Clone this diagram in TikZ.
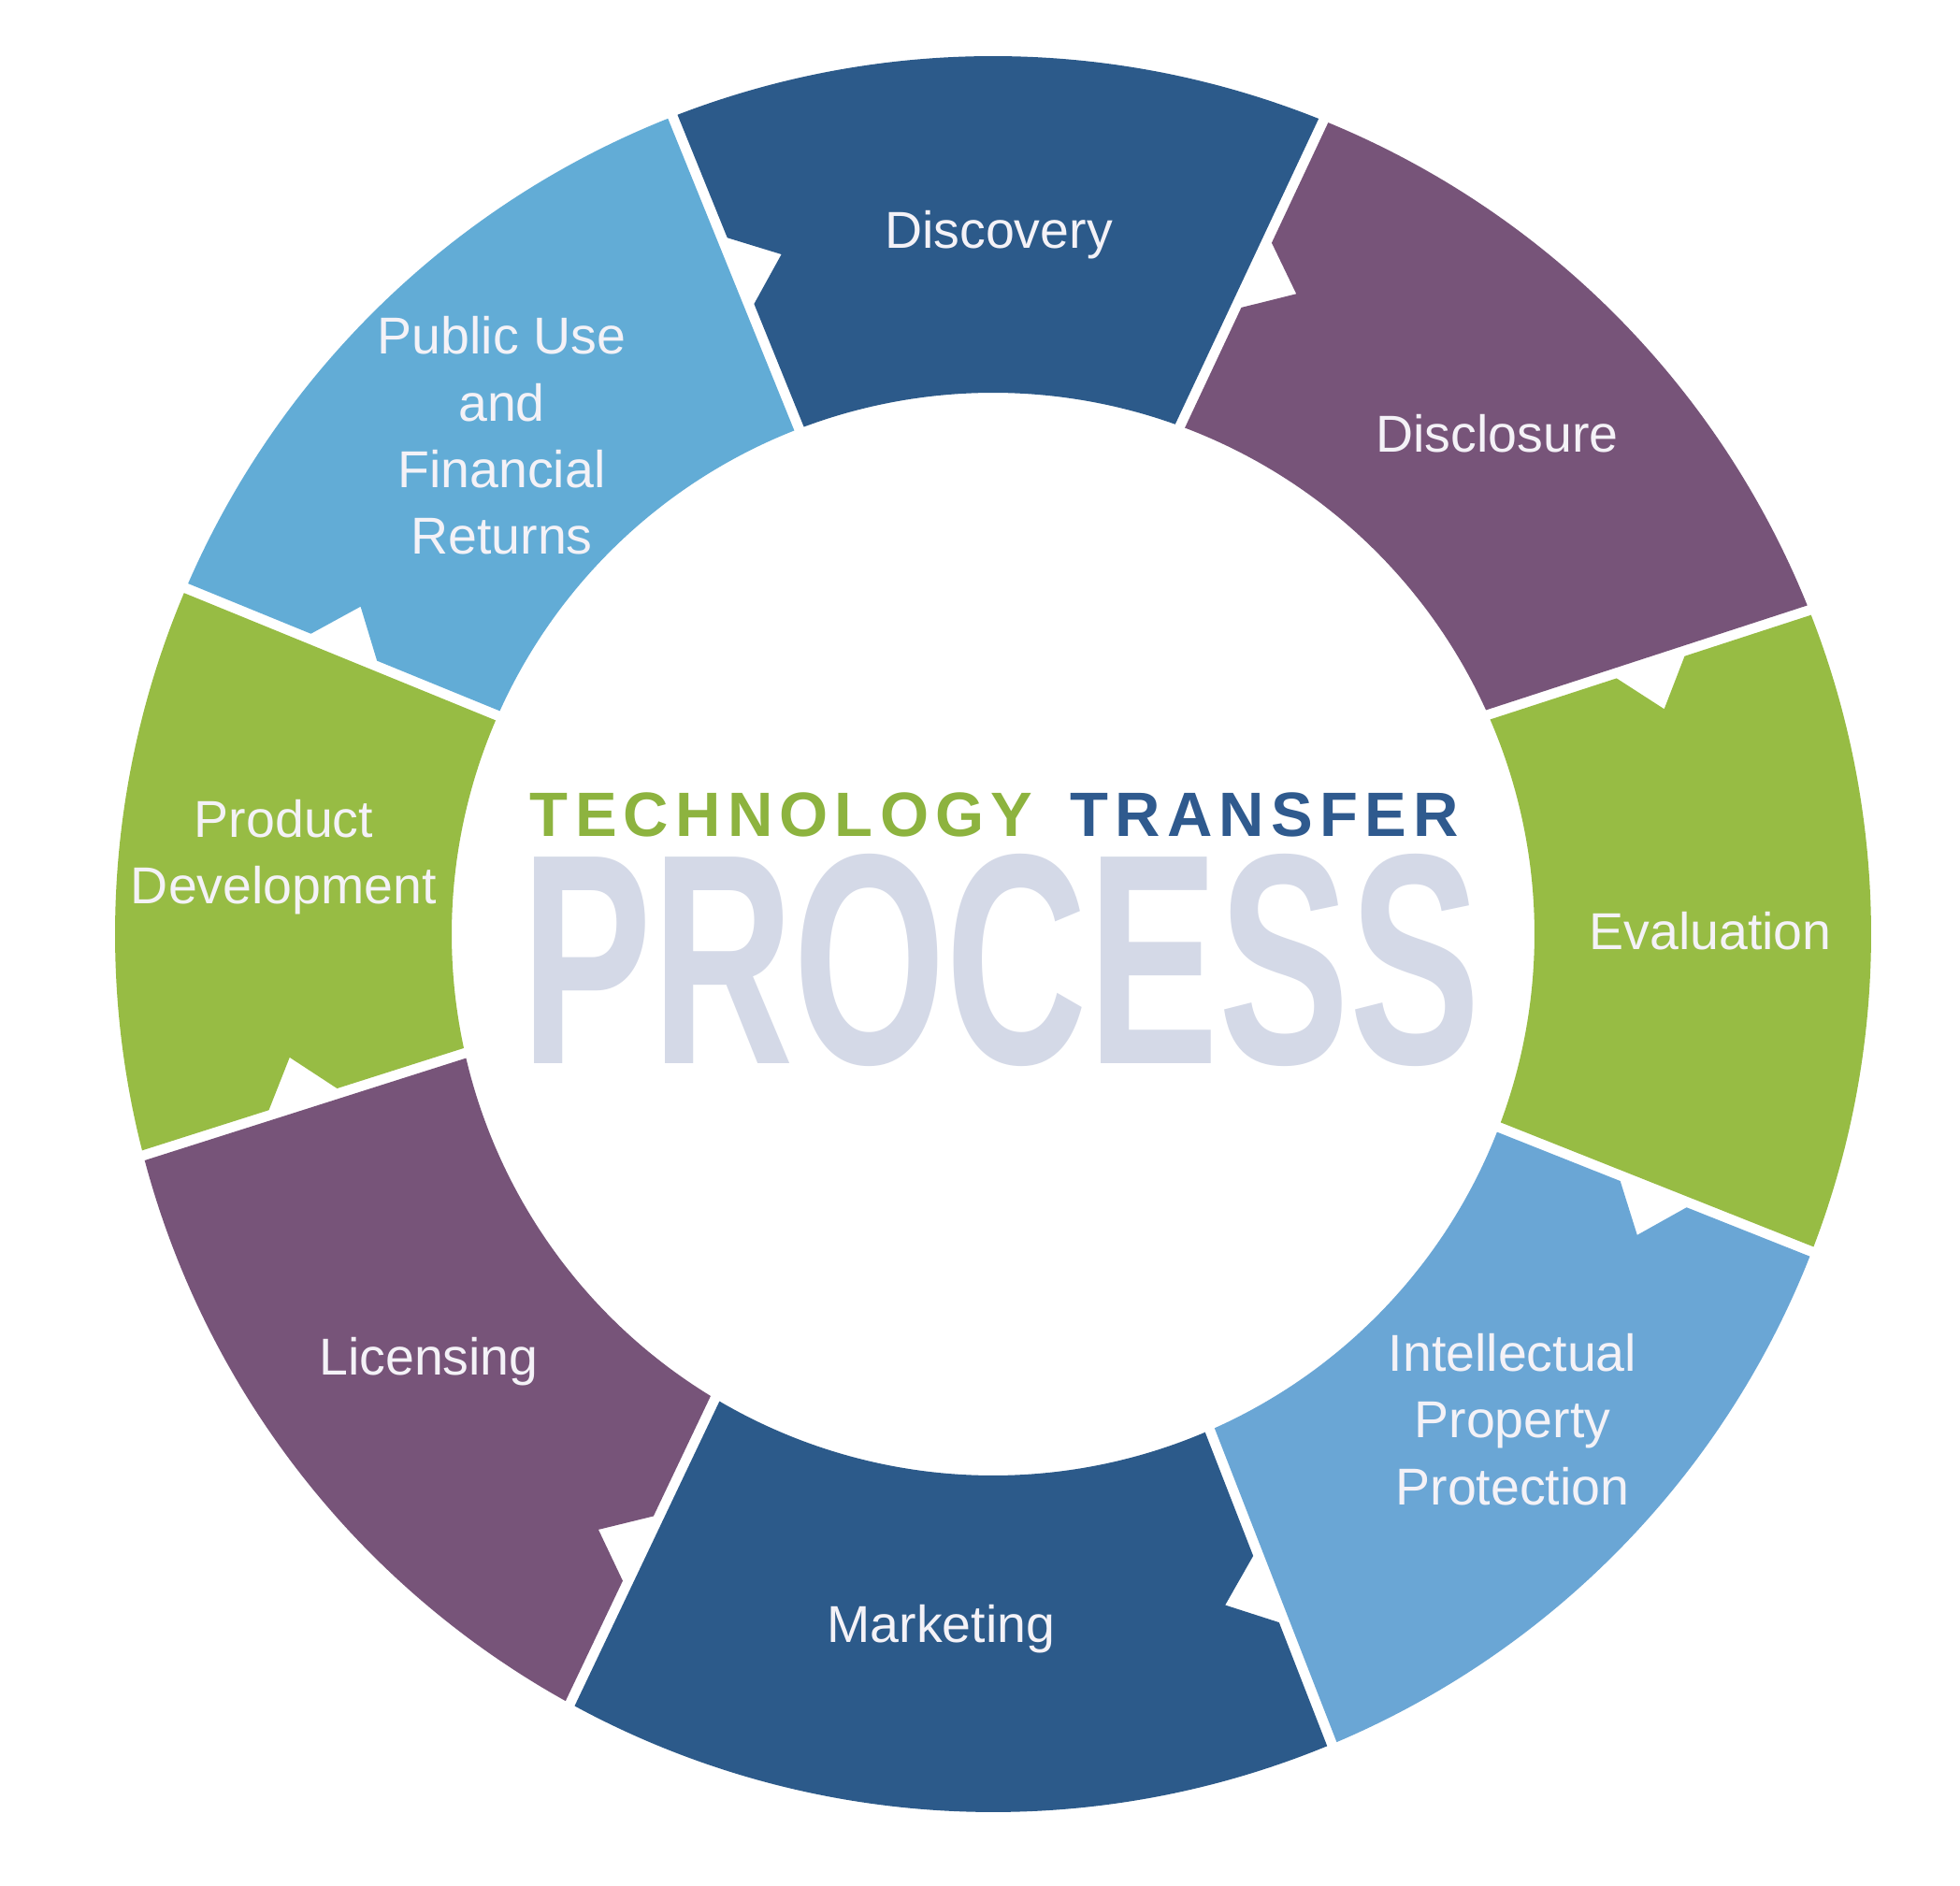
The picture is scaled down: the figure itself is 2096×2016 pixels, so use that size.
\documentclass[tikz,border=0pt]{standalone}
\usepackage{fontspec}
\setmainfont{Liberation Sans}
\usetikzlibrary{calc}
\definecolor{dblue}{HTML}{2C5A8A}
\definecolor{purp}{HTML}{775479}
\definecolor{lgreen}{HTML}{97BC44}
\definecolor{lblueA}{HTML}{62ACD6}
\definecolor{lblueB}{HTML}{6AA6D5}
\definecolor{labtext}{HTML}{F4F2F7}
\definecolor{techgreen}{HTML}{8DB33F}
\definecolor{transblue}{HTML}{2F5A8E}
\definecolor{procgray}{HTML}{D4D9E7}
\newcommand\RingOut{939}
\newcommand\RingIn{579}
\newcommand\GapOut{0.336}
\newcommand\GapIn{0.544}
\makeatletter
\newcommand\trackword[2]{\@tfor\tw@c:=#2\do{\tw@c\kern#1}}
\makeatother
% #1 name, #2 start edge outer angle, #3 start edge inner angle, #4 end edge outer angle, #5 end edge inner angle, #6 colour
\newcommand\ringseg[6]{%
  \coordinate (#1-ao) at (#2-\GapOut:\RingOut);
  \coordinate (#1-ai) at (#3-\GapIn:\RingIn);
  \coordinate (#1-bo) at (#4+\GapOut:\RingOut);
  \coordinate (#1-bi) at (#5+\GapIn:\RingIn);
  \coordinate (#1-n1) at ($(#1-ai)!0.394!(#1-ao)$);
  \coordinate (#1-n2) at ($(#1-ai)!0.606!(#1-ao)$);
  \coordinate (#1-m) at ($(#1-ai)!0.5!(#1-ao)$);
  \coordinate (#1-nt) at ($(#1-m)!23.5pt!-90:(#1-ao)$);
  \fill[#6] (#1-ao) arc[start angle=#2-\GapOut, end angle=#4+\GapOut, radius=\RingOut]
    -- (#1-bi) arc[start angle=#5+\GapIn, end angle=#3-\GapIn, radius=\RingIn]
    -- (#1-n1) -- (#1-nt) -- (#1-n2) -- cycle;
}
\tikzset{
  lab/.style={font=\fontsize{27.75}{35.7}\selectfont, text=labtext, align=center, inner sep=0pt, anchor=base},
  titleword/.style={anchor=base west, inner sep=0pt, font=\fontsize{33.5}{40}\selectfont\bfseries}
}
\begin{document}
\begin{tikzpicture}[x=0.5pt,y=0.5pt]
\fill[white] (-1062,-1017) rectangle (1034,999);
\useasboundingbox (-1062,-1017) rectangle (1034,999);
\ringseg{segdisc}{111.4}{111.0}{67.9}{69.8}{dblue}
\ringseg{segdiscl}{67.9}{69.8}{21.65}{23.9}{purp}
\ringseg{segeval}{21.65}{23.9}{-21.2}{-20.9}{lgreen}
\ringseg{segip}{-21.2}{-20.9}{-67.3}{-66.4}{lblueB}
\ringseg{segmkt}{-67.3}{-66.4}{-118.8}{-120.9}{dblue}
\ringseg{seglic}{241.2}{239.1}{194.6}{192.7}{purp}
\ringseg{segprod}{194.6}{192.7}{156.8}{156.2}{lgreen}
\ringseg{segpub}{156.8}{156.2}{111.4}{111.0}{lblueA}
\node[lab] (discovery) at (6,733) {Discovery};
\node[lab] (disclosure) at (539,515) {Disclosure};
\node[lab] (evaluation) at (767,-17) {Evaluation};
\node[lab] (ipp) at (555.5,-610) {Intellectual\\Property\\Protection};
\node[lab] (marketing) at (-55.5,-757) {Marketing};
\node[lab] (licensing) at (-603.5,-471.5) {Licensing};
\node[lab] (product) at (-758.5,32) {Product\\Development};
\node[lab] (public) at (-525.5,406) {Public Use\\and\\Financial\\Returns};
\node[titleword, text=techgreen] (tech) at (-495.5,104) {\trackword{3.6pt}{TECHNOLOGY}};
\node[titleword, text=transblue] (transfer) at (82,104) {\trackword{3.6pt}{TRANSFER}};
\node[anchor=base west, inner sep=0pt, text=procgray] (process) at (-505,-138.5) {\resizebox{512.5pt}{112pt}{\bfseries PROCESS}};
\end{tikzpicture}
\end{document}
